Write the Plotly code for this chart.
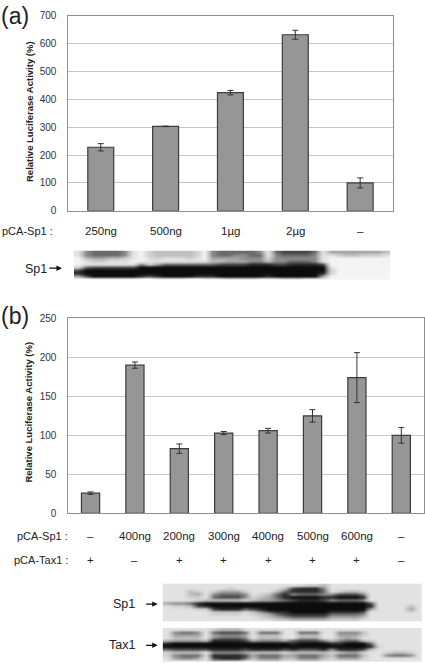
import plotly.graph_objects as go

W, H = 425, 669
FONT = "Liberation Sans, Arial, sans-serif"

# Panel (a)
a_doses = ["250ng", "500ng", "1µg", "2µg", "–"]
a_values = [228, 303, 424, 632, 100]
a_errors = [13, 1, 8, 16, 18]
a_yticks = [0, 100, 200, 300, 400, 500, 600, 700]

# Panel (b)
b_sp1 = ["–", "400ng", "200ng", "300ng", "400ng", "500ng", "600ng", "–"]
b_tax1 = ["+", "–", "+", "+", "+", "+", "+", "–"]
b_values = [26, 190, 83, 103, 106, 125, 174, 100]
b_errors = [1.5, 4, 6, 2, 3, 8, 32, 10]
b_yticks = [0, 50, 100, 150, 200, 250]

# Western blots: band darkness, 0 (blank) to 9 (black); spaces separate lanes
blot_a = [
    "15666651 0 2333332 0 5666665 1 677776 1 44444443",
    "15666651 0 2333332 0 5665566 1 566665 1 12332221",
    "03443321 0 1211121 0 4444555 2 555555 1 00000000",
    "01221110 0 1111111 1 3344455 3 556665 1 00000000",
    "01111111 5 2466666 6 6777788 8 778888 7 00000000",
    "26777777 9 9999999 9 9999999 9 999999 9 10000000",
    "79999999 9 9999999 9 9999999 9 999999 9 20000000",
    "89999999 9 9999999 9 9999999 9 999999 8 20000000",
    "47999999 8 7899998 8 8999999 8 999999 4 00000000",
    "00111111 0 0111100 1 1122221 1 122211 1 00000000",
]
blot_b_sp1 = [
    "111111 11111 11111 11223 11111 1 111111",
    "111111 11211 11113 78885 11111 1 111111",
    "111321 24442 11136 88886 12332 1 111111",
    "111341 56665 12368 56665 57775 1 111111",
    "111221 67775 23468 99998 89998 1 111111",
    "111123 33332 34456 78887 56665 1 111111",
    "455689 99999 99999 99999 99999 7 111111",
    "122378 99999 99999 99999 99999 8 111131",
    "111122 78886 78999 99999 99999 4 111141",
    "111111 33332 35788 99999 88887 1 111121",
    "111111 22221 23467 88888 66665 1 111111",
    "111111 11111 12345 66666 44443 1 111111",
    "111111 11111 11122 33333 22221 1 111111",
]
blot_b_tax1 = [
    "111111 23331 11111 11111 11111 1 111111",
    "156651 67776 16661 16661 15553 1 111111",
    "144441 45554 13331 13331 14442 1 111111",
    "133331 56665 13331 14441 13431 1 111111",
    "344443 88887 45554 67775 35663 2 111111",
    "899999 99999 99999 89999 88999 6 111111",
    "999999 99999 99999 99999 99999 8 211111",
    "677777 88887 88887 87778 58887 3 111111",
    "233331 55554 33332 33333 23442 1 123321",
    "256662 88887 46664 46664 36663 1 156651",
    "145541 78886 35553 35553 24442 1 111111",
    "111111 33331 12221 12221 11111 1 111111",
]


def px_x(a, b):
    return [a / W, b / W]


def px_y(top, bottom):
    return [1 - bottom / H, 1 - top / H]


def digits(rows):
    return [[int(c) for c in r.replace(" ", "")] for r in rows]


fig = go.Figure()

bar_style = dict(marker=dict(color="#969696", line=dict(color="#3c3c3c", width=1.2)),
                 showlegend=False, hoverinfo="skip")


def err(values):
    return dict(type="data", array=values, visible=True, color="#333333", thickness=1, width=3)


fig.add_bar(x=list(range(len(a_values))), y=a_values, width=0.4, error_y=err(a_errors),
            xaxis="x", yaxis="y", **bar_style)
fig.add_bar(x=list(range(len(b_values))), y=b_values, width=0.41, error_y=err(b_errors),
            xaxis="x2", yaxis="y2", **bar_style)

blot_scale = [[0, "#f4f4f4"], [1 / 9, "#e2e2e2"], [3 / 9, "#c0c0c0"], [5 / 9, "#8c8c8c"],
              [7 / 9, "#484848"], [1, "#0c0c0c"]]
for rows, xa, ya in [(blot_a, "x3", "y3"), (blot_b_sp1, "x4", "y4"), (blot_b_tax1, "x5", "y5")]:
    fig.add_heatmap(z=digits(rows), zmin=0, zmax=9, colorscale=blot_scale, showscale=False,
                    zsmooth="best", hoverinfo="skip", xaxis=xa, yaxis=ya)

line = "#8f8f8f"
grid = "#c6c6c6"
tick_font = dict(family=FONT, size=10, color="#333333")


def xax(domain, n):
    return dict(domain=domain, range=[-0.5, n - 0.5], showticklabels=False, ticks="",
                showgrid=False, zeroline=False, showline=True, mirror=True, linecolor=line,
                linewidth=1, fixedrange=True)


def yax(domain, top, ticks):
    return dict(domain=domain, range=[0, top], tickvals=ticks, tickfont=tick_font, ticks="",
                ticklabelstandoff=9, showgrid=True, gridcolor=grid, gridwidth=1, zeroline=False,
                showline=True, mirror=True, linecolor=line, linewidth=1, fixedrange=True)


def hidden(domain, **kw):
    return dict(domain=domain, visible=False, fixedrange=True, **kw)


layout = dict(
    width=W, height=H, autosize=False, margin=dict(l=0, r=0, t=0, b=0),
    paper_bgcolor="white", plot_bgcolor="white", showlegend=False,
    font=dict(family=FONT, color="#222222"),
    xaxis={**xax(px_x(68.5, 393.5), 5), "anchor": "y"},
    yaxis={**yax(px_y(10, 208.5), 700, a_yticks), "anchor": "x"},
    xaxis2={**xax(px_x(68.5, 424.5), 8), "anchor": "y2"},
    yaxis2={**yax(px_y(318, 516.7), 250, b_yticks), "anchor": "x2"},
    xaxis3=hidden(px_x(74, 391), anchor="y3"),
    yaxis3=hidden(px_y(249, 279), anchor="x3", autorange="reversed"),
    xaxis4=hidden(px_x(163, 423), anchor="y4"),
    yaxis4=hidden(px_y(588, 627), anchor="x4", autorange="reversed"),
    xaxis5=hidden(px_x(163, 423), anchor="y5"),
    yaxis5=hidden(px_y(633, 668), anchor="x5", autorange="reversed"),
)
fig.update_layout(**layout)


def label(x, y, text, size=11.5, xref="paper", anchor="center", **kw):
    fig.add_annotation(x=x if xref != "paper" else x / W, y=1 - y / H, xref=xref, yref="paper",
                       text=text, showarrow=False, xanchor=anchor, yanchor="middle",
                       font=dict(family=FONT, size=size, color="#222222"), **kw)


def arrow(x0, x1, y):
    fig.add_annotation(x=x1 / W, y=1 - y / H, xref="paper", yref="paper", ax=x0 - x1, ay=0,
                       axref="pixel", ayref="pixel", text="", showarrow=True, arrowhead=2,
                       arrowsize=0.9, arrowwidth=1.2, arrowcolor="#111111")


label(-1, 10, "(a)", size=23, anchor="left")
label(-1, 316, "(b)", size=23, anchor="left")
axis_title = "<b>Relative Luciferase Activity (%)</b>"
label(29, 107, axis_title, size=9.5, textangle=-90)
label(29, 413, axis_title, size=9.5, textangle=-90)

label(55, 229, "pCA-Sp1 :", size=11, anchor="right")
for i, t in enumerate(a_doses):
    label(i, 229, t, xref="x")
label(23, 268, "Sp1", size=12.5, anchor="left")
arrow(48, 62, 267)

label(70, 540, "pCA-Sp1 :", size=11, anchor="right")
label(70, 564, "pCA-Tax1 :", size=11, anchor="right")
for i, t in enumerate(b_sp1):
    label(i, 540, t, xref="x2")
for i, t in enumerate(b_tax1):
    label(i, 564, t, xref="x2")
label(137, 609, "Sp1", size=12.5, anchor="right")
arrow(145, 158, 609)
label(137, 651, "Tax1", size=12.5, anchor="right")
arrow(145, 158, 651)

fig.write_html("out.html", config={"displayModeBar": False, "staticPlot": True},
               post_script="document.body.style.margin='0';document.body.style.overflow='hidden';")
